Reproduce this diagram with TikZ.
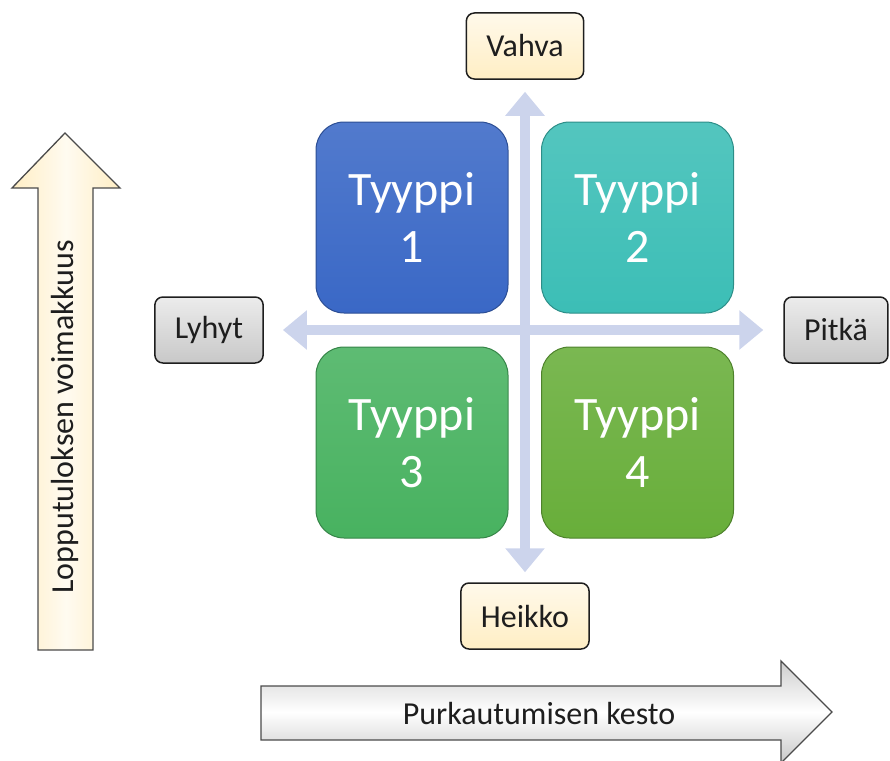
\documentclass[tikz,border=0pt]{standalone}
\usepackage{fontspec}
\setmainfont{Carlito}
\usetikzlibrary{arrows.meta,positioning}
\definecolor{qblue}{RGB}{58,104,198}
\definecolor{qteal}{RGB}{60,190,182}
\definecolor{qgreen}{RGB}{72,178,96}
\definecolor{qolive}{RGB}{104,174,58}
\definecolor{cream}{RGB}{255,238,196}
\definecolor{pebble}{RGB}{200,200,200}
\definecolor{axisblue}{RGB}{204,212,236}
\definecolor{ink}{RGB}{30,30,30}
\tikzset{
  >={Triangle[width=38pt,length=24pt]},
  quad/.style={draw=#1!75!black,line width=1pt,rounded corners=28pt,
    top color=#1!88!white,bottom color=#1,
    minimum width=192pt,minimum height=191pt,text=white,align=center,
    font=\fontsize{48}{57}\selectfont},
  quad/.default=qblue,
  pole/.style={draw=ink,line width=1.5pt,rounded corners=8pt,
    top color=#1!35!white,bottom color=#1,text=ink,
    inner xsep=20pt,minimum height=66pt,font=\fontsize{32}{38}\selectfont},
  pole/.default=cream,
  axis/.style={<->,line width=10pt,draw=axisblue},
  bigarrow/.style={draw=ink!80,line width=1.3pt},
  caption/.style={text=ink,font=\fontsize{32}{38}\selectfont},
}
\begin{document}
\begin{tikzpicture}[x=1pt,y=-1pt]
  \useasboundingbox (0,0) rectangle (890,760);
  % big arrows
  \draw[bigarrow,left color=cream,right color=cream,middle color=cream!25!white]
    (38,650) -- (38,188) -- (12,188) -- (65,133) -- (120,188) -- (93,188) -- (93,650) -- cycle;
  \node[caption,rotate=90] (strength) at (65,417) {Lopputuloksen voimakkuus};
  \draw[bigarrow,top color=pebble!90,bottom color=pebble,middle color=white]
    (261,686) -- (781,686) -- (781,661) -- (832,712) -- (781,763) -- (781,740) -- (261,740) -- cycle;
  \node[caption] (duration) at (539,713) {Purkautumisen kesto};
  % quadrants
  \node[quad=qblue] (t1) at (412,217.5) {Tyyppi\\1};
  \node[quad=qteal] (t2) at (637.5,217.5) {Tyyppi\\2};
  \node[quad=qgreen] (t3) at (412,442.5) {Tyyppi\\3};
  \node[quad=qolive] (t4) at (637.5,442.5) {Tyyppi\\4};
  % axis labels
  \node[pole] (strong) at (525,46) {Vahva};
  \node[pole] (weak) at (525,616) {Heikko};
  \node[pole=pebble] (short) at (209,330) {Lyhyt};
  \node[pole=pebble] (long) at (836,330) {Pitkä};
  \draw[axis,shorten <=10pt,shorten >=12pt] (weak.north) -- (strong.south);
  \draw[axis,shorten <=19pt,shorten >=20pt] (short.east) -- (long.west);
\end{tikzpicture}
\end{document}
